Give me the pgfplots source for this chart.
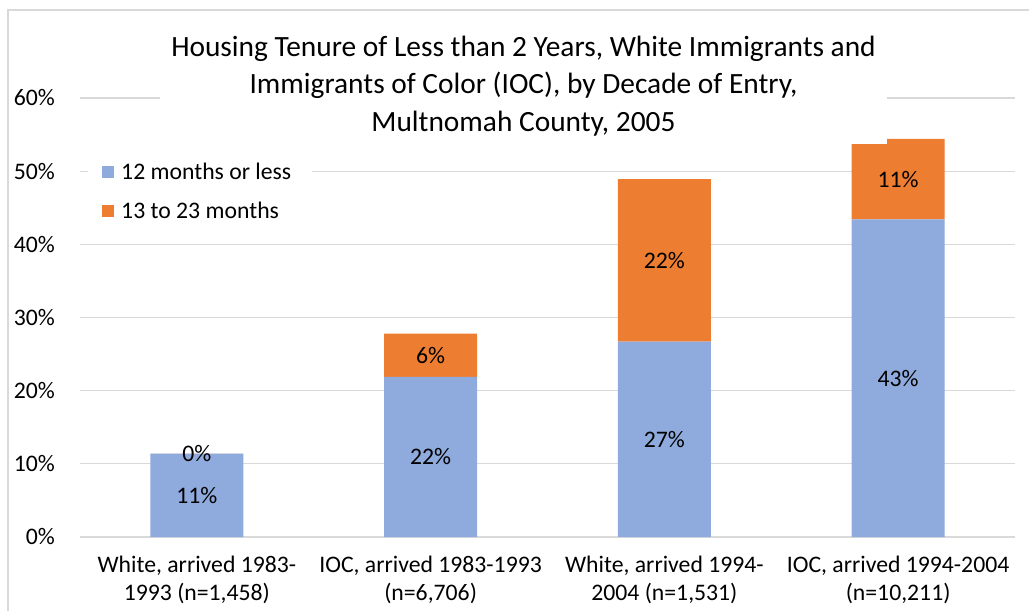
\documentclass[border=0pt]{standalone}
\usepackage{pgfplots}
\pgfplotsset{compat=1.18}
\usepackage{fontspec}
\setmainfont{Carlito}
\definecolor{blueA}{HTML}{8FAADC}
\definecolor{orangeA}{HTML}{ED7D31}
\definecolor{gridc}{HTML}{D9D9D9}
\begin{document}
\begin{tikzpicture}
\path[use as bounding box] (-80bp,-74bp) rectangle (949bp,537bp);
\draw[gridc, line width=1.5bp] (-72bp,-90bp) -- (-72bp,527bp) -- (970bp,527bp);
\begin{axis}[
  at={(0bp,0bp)}, anchor=south west,
  width=935bp, height=439bp, scale only axis,
  xmin=-0.5, xmax=3.5, ymin=0, ymax=60,
  ybar stacked, bar width=93bp,
  xtick={0,1,2,3},
  xticklabels={{White, arrived 1983-\\1993 (n=1,458)},{IOC, arrived 1983-1993\\(n=6,706)},{White, arrived 1994-\\2004 (n=1,531)},{IOC, arrived 1994-2004\\(n=10,211)}},
  ytick={0,10,...,60},
  yticklabel={\pgfmathprintnumber{\tick}\%},
  ymajorgrids, grid style={gridc, line width=1.3bp},
  axis line style={draw=none}, major tick length=0pt,
  tick label style={font=\fontsize{23.8}{28}\selectfont},
  xticklabel style={align=center, anchor=north, inner sep=0pt, yshift=-19bp},
  yticklabel style={anchor=east, inner sep=0pt, xshift=-25bp},
  /pgf/number format/assume math mode=true,
  nodes near coords={\pgfmathprintnumber[fixed,precision=0]{\rawy}\%},
  visualization depends on={rawy \as \rawy},
  every node near coord/.append style={anchor=center, inner sep=0pt, font=\fontsize{23.8}{26}\selectfont, text=black},
  legend style={at={(rel axis cs:0.0086,0.8747)}, anchor=north west, draw=none, fill=white, font=\fontsize{23.8}{26}\selectfont, row sep=17bp, inner xsep=14bp, inner ysep=8bp, nodes={inner xsep=7bp}},
  legend cell align=left,
  legend image code/.code={\path[#1, draw=none] (0bp,-6bp) rectangle (12bp,6bp);},
]
\addplot[fill=blueA, draw=none] coordinates {(0,11.4) (1,21.9) (2,26.7) (3,43.4)};
\addplot[fill=orangeA, draw=none] coordinates {(0,0.01) (1,5.9) (2,22.2) (3,11.0)};
\legend{12 months or less, 13 to 23 months}
\end{axis}
\node[fill=white, minimum width=727bp, minimum height=117bp, inner sep=0pt, align=center, font=\fontsize{29.5}{37.5}\selectfont] at (443.5bp,451bp) {Housing Tenure of Less than 2 Years, White Immigrants and\\Immigrants of Color (IOC), by Decade of Entry,\\Multnomah County, 2005};
\end{tikzpicture}
\end{document}
